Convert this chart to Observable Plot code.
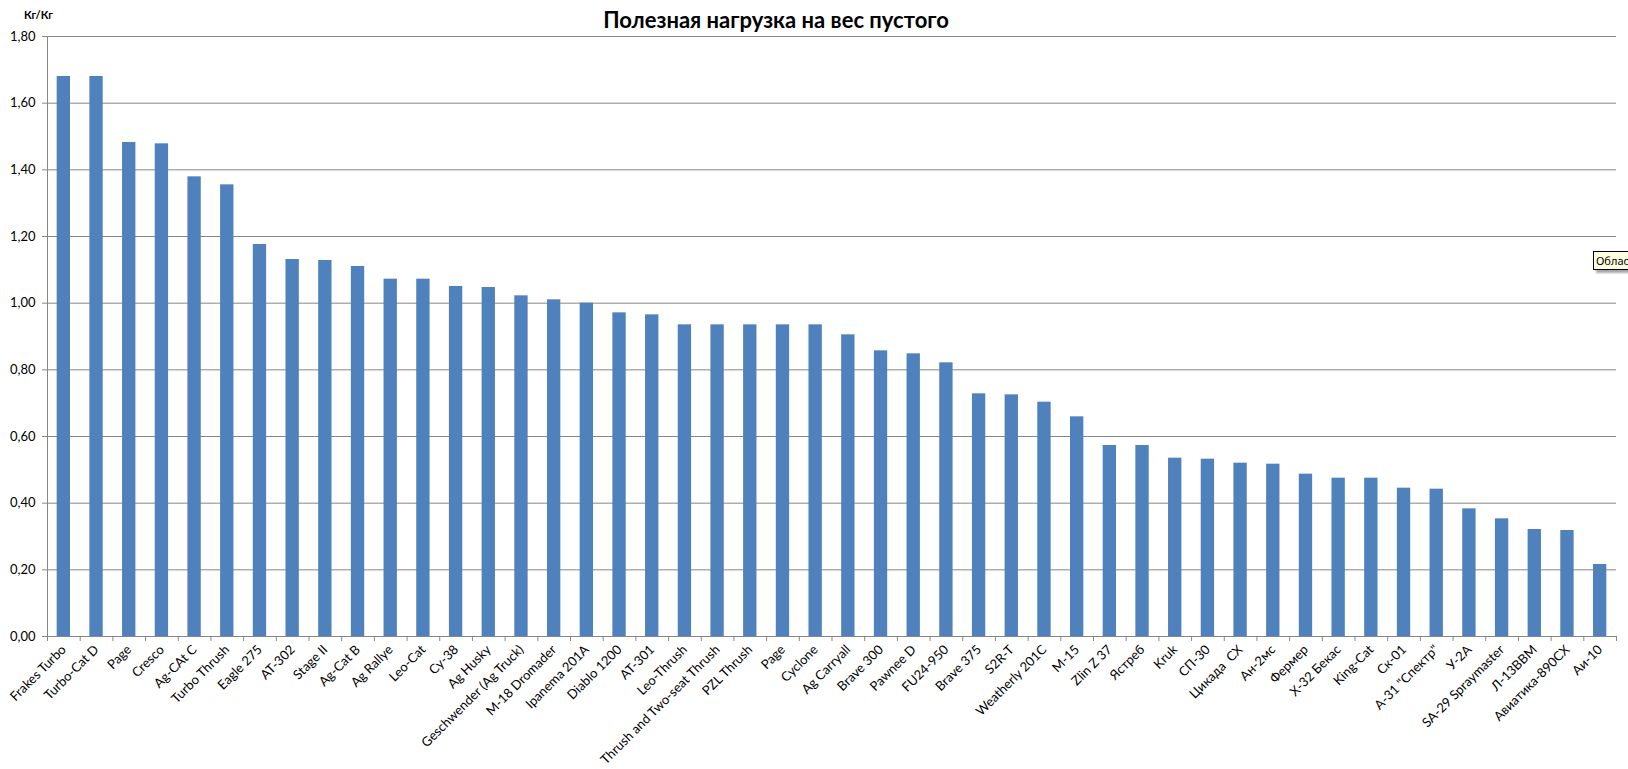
<!DOCTYPE html>
<html>
<head>
<meta charset="utf-8">
<script src="https://cdn.jsdelivr.net/npm/d3@7"></script>
<script src="https://cdn.jsdelivr.net/npm/@observablehq/plot@0.6"></script>
<style>
  html, body { margin: 0; padding: 0; background: #fff; overflow: hidden; }
  #wrap { position: relative; width: 1628px; height: 769px; overflow: hidden; font-family: Lato, "Open Sans", sans-serif; }
  #title { position: absolute; left: 0; width: 1552px; top: 6px; text-align: center; font-weight: bold; font-size: 22px; color: #000; }
  #unit { position: absolute; left: 24px; top: 8px; font-weight: bold; font-size: 11px; color: #000; }
  #tip { position: absolute; left: 1593px; top: 251px; width: 40px; padding: 1px 2px; background: #ffffe1; border: 1px solid #000; border-right: none; font-size: 11px; font-family: "Noto Sans", sans-serif; box-shadow: 3px 3px 2px rgba(0,0,0,0.35); white-space: nowrap; line-height: 15px; overflow: hidden; }
</style>
</head>
<body>
<div id="wrap">
  <div id="chart"></div>
  <div id="title"></div>
  <div id="unit"></div>
  <div id="tip"></div>
</div>
<script>
const titleText = "Полезная нагрузка на вес пустого";
const unitText = "Кг/Кг";
const tipText = "Облас";

const aircraft = [
  "Frakes Turbo", "Turbo-Cat D", "Page", "Cresco", "Ag-CAt C", "Turbo Thrush",
  "Eagle 275", "AT-302", "Stage II", "Ag-Cat B", "Ag Rallye", "Leo-Cat",
  "Cy-38", "Ag Husky", "Geschwender (Ag Truck)", "M-18 Dromader", "Ipanema 201A", "Diablo 1200",
  "AT-301", "Leo-Thrush", "Thrush and Two-seat Thrush", "PZL Thrush", "Page", "Cyclone",
  "Ag Carryall", "Brave 300", "Pawnee D", "FU24-950", "Brave 375", "S2R-T",
  "Weatherly 201C", "M-15", "Zlin Z 37", "Ястреб", "Kruk", "СП-30",
  "Цикада  СХ", "Ан-2мс", "Фермер", "Х-32 Бекас", "King-Cat", "Ск-01",
  "А-31 \"Спектр\"", "У-2А", "SA-29 Spraymaster", "Л-13ВВМ", "Авиатика-890СХ", "Аи-10"
];

const ratio = [
  1.68, 1.68, 1.482, 1.478, 1.379, 1.355,
  1.176, 1.131, 1.128, 1.110, 1.072, 1.072,
  1.050, 1.047, 1.022, 1.010, 1.000, 0.971,
  0.965, 0.935, 0.935, 0.935, 0.935, 0.935,
  0.905, 0.857, 0.848, 0.821, 0.728, 0.725,
  0.703, 0.659, 0.573, 0.573, 0.535, 0.532,
  0.520, 0.517, 0.487, 0.475, 0.475, 0.445,
  0.442, 0.383, 0.353, 0.321, 0.318, 0.216
];

const yTicks = [0, 0.2, 0.4, 0.6, 0.8, 1.0, 1.2, 1.4, 1.6, 1.8];

const data = aircraft.map((name, i) => ({i, name, v: ratio[i]}));
const n = aircraft.length;
const halfBar = 0.204;
const boundaries = d3.range(n + 1).map(k => k - 0.5);

const fmt = v => v.toFixed(2).replace(".", ",");
const gridColor = "#868686";

const chart = Plot.plot({
  width: 1628,
  height: 769,
  marginLeft: 47,
  marginRight: 12,
  marginTop: 36,
  marginBottom: 133,
  style: {fontFamily: "Lato, 'Open Sans', sans-serif", background: "#fff", color: "#000"},
  x: {type: "linear", domain: [-0.5, n - 0.5], axis: null},
  y: {domain: [0, 1.8], axis: null},
  marks: [
    Plot.gridY(yTicks, {stroke: gridColor, strokeOpacity: 1, strokeWidth: 1}),
    Plot.rectY(data, {x1: d => d.i - halfBar, x2: d => d.i + halfBar, y: "v", fill: "#4f81bd"}),
    Plot.ruleY([0], {stroke: gridColor, strokeWidth: 1}),
    Plot.ruleX([-0.5], {stroke: gridColor, strokeWidth: 1}),
    Plot.axisY({ticks: yTicks, tickFormat: fmt, tickSize: 5, tickPadding: 7, stroke: gridColor, fontSize: 13, fill: "#000", label: null}),
    Plot.axisX({ticks: boundaries, tickFormat: () => "", tickSize: 5, stroke: gridColor, label: null}),
    Plot.axisX({ticks: d3.range(n), tickFormat: i => aircraft[i], tickSize: 0, tickPadding: 11, tickRotate: -45, textAnchor: "end", fontSize: 13, fill: "#000", label: null})
  ]
});

document.getElementById("chart").appendChild(chart);
document.getElementById("title").textContent = titleText;
document.getElementById("unit").textContent = unitText;
document.getElementById("tip").textContent = tipText;
</script>
</body>
</html>
